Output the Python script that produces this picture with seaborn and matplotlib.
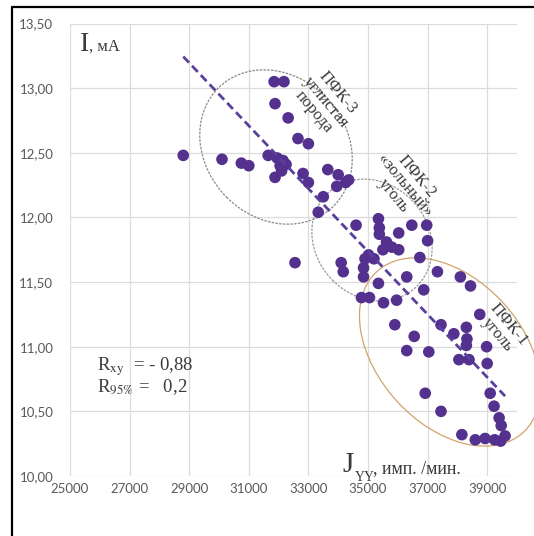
import numpy as np
import pandas as pd
import matplotlib
matplotlib.use("Agg")
import matplotlib.pyplot as plt
from matplotlib.patches import Ellipse
from matplotlib.lines import Line2D
import seaborn as sns

# ---- data ----
j_counts = [28800, 30100, 30750, 31000, 31650, 31850, 32180, 31880, 32320, 32650,
            33000, 31950, 32150, 32050, 32250, 32100, 31880, 32820, 33000, 33650,
            34000, 34350, 33950, 34250, 33500, 33330, 32550,
            34600, 35350, 35380, 35380, 35620, 35800, 35500, 36030, 35020, 35200,
            34900, 36030, 36470, 36970, 37000, 36740, 34100, 34170, 34850, 34850,
            35350, 36300, 36870, 34780, 35050, 35520, 35960, 35900, 36550,
            37330, 38100, 38440, 38750, 37450, 37880, 38300, 38320, 38300, 38050,
            38390, 38980, 39000, 36300, 37040, 36920, 37450, 39100, 39230, 39400,
            39470, 38150, 38600, 38930, 39250, 39450, 39600]
current_ma = [12.48, 12.45, 12.42, 12.40, 12.48, 13.05, 13.05, 12.88, 12.77, 12.61,
              12.57, 12.46, 12.44, 12.40, 12.41, 12.36, 12.31, 12.34, 12.27, 12.37,
              12.33, 12.29, 12.24, 12.27, 12.16, 12.04, 11.65,
              11.94, 11.99, 11.92, 11.87, 11.81, 11.77, 11.75, 11.75, 11.71, 11.68,
              11.68, 11.88, 11.94, 11.94, 11.82, 11.69, 11.65, 11.58, 11.61, 11.54,
              11.49, 11.54, 11.44, 11.38, 11.38, 11.34, 11.36, 11.17, 11.08,
              11.58, 11.54, 11.47, 11.25, 11.17, 11.10, 11.15, 11.06, 11.01, 10.90,
              10.90, 11.00, 10.87, 10.97, 10.96, 10.64, 10.50, 10.64, 10.54, 10.45,
              10.39, 10.32, 10.28, 10.29, 10.28, 10.27, 10.31]
x_ticks = [25000, 27000, 29000, 31000, 33000, 35000, 37000, 39000]
y_ticks = [10.0, 10.5, 11.0, 11.5, 12.0, 12.5, 13.0, 13.5]
group_labels = ["ПФК-3\nуглистая\nпорода", "ПФК-2\n«зольный»\nуголь", "ПФК-1\nуголь"]
stats_lines = [r"R$_{\mathrm{xy}}$  = - 0,88", r"R$_{\mathrm{95\%}}$ =   0,2"]

df = pd.DataFrame({"J": j_counts, "I": current_ma})

sns.set_theme(style="white")
plt.rcParams["font.family"] = ["Liberation Serif", "DejaVu Serif"]
plt.rcParams["mathtext.fontset"] = "stix"

W, H = 534, 536
fig = plt.figure(figsize=(W / 100, H / 100), dpi=100)
fig.patch.set_facecolor("white")
ax = fig.add_axes([70 / W, 1 - 476 / H, 447 / W, 452.5 / H])

purple = "#54318f"
sns.regplot(data=df, x="J", y="I", scatter=False, ci=None, ax=ax,
            line_kws=dict(color="#5a3f9c", lw=2.0, linestyle=(0, (3, 1.6)), zorder=4))
sns.scatterplot(data=df, x="J", y="I", ax=ax, color=purple, s=70,
                edgecolor="none", linewidth=0, zorder=3)

ax.set_xlim(25000, 40000)
ax.set_ylim(10.0, 13.5)
ax.set_xticks(x_ticks)
ax.set_yticks(y_ticks)
ax.set_xticklabels([str(v) for v in x_ticks])
ax.set_yticklabels([f"{v:.2f}".replace(".", ",") for v in y_ticks])
ax.grid(True, color="#dcdcdc", lw=0.9)
ax.set_axisbelow(True)
for s in ax.spines.values():
    s.set_visible(False)
ax.tick_params(axis="both", length=0, labelsize=9.5, colors="#595959")
ax.tick_params(axis="y", pad=12)
ax.tick_params(axis="x", pad=5)
for lab in ax.get_xticklabels() + ax.get_yticklabels():
    lab.set_fontfamily(["Lato", "DejaVu Sans"])
ax.set_xlabel("")
ax.set_ylabel("")

# ellipses (pixel geometry converted to axes fraction)
def px_ellipse(cx, cy, a2, b2, ang, color, ls):
    e = Ellipse(((cx - 70) / 447, (476 - cy) / 452.5), a2 / 447, b2 / 447, angle=ang,
                transform=ax.transAxes, fill=False, edgecolor=color, lw=0.9,
                linestyle=ls, clip_on=False, zorder=2)
    ax.add_patch(e)

px_ellipse(276, 147, 164, 140, -45, "#8a8a8a", (0, (2, 1)))
px_ellipse(372, 240, 128, 112, -45, "#9a9a9a", (0, (2, 1)))
px_ellipse(450, 352, 216, 144, -47, "#cfa46e", "-")

tc = "#3a3a3a"
def ftext(px, py, s, **kw):
    fig.text(px / W, 1 - py / H, s, color=tc, **kw)

# axis annotations
ftext(80, 51, "I", fontsize=20, va="baseline", ha="left")
ftext(89, 51, ", мА", fontsize=12, va="baseline", ha="left")
ftext(342, 472, "J", fontsize=21, va="baseline", ha="left")
ftext(355, 481, "YY", fontsize=10, va="baseline", ha="left")
ftext(373, 473, ", имп. /мин.", fontsize=13, va="baseline", ha="left")

ftext(97, 370, stats_lines[0], fontsize=13.5, va="baseline", ha="left")
ftext(97, 392, stats_lines[1], fontsize=13.5, va="baseline", ha="left")

# group labels
for (cx, cy), lab in zip([(326, 102), (405, 186), (503, 330)], group_labels):
    ftext(cx, cy, lab, fontsize=12, rotation=-50, rotation_mode="anchor",
          ha="center", va="center", multialignment="center", linespacing=0.95)

# outer frame (top and left edges visible)
fig.add_artist(Line2D([12 / W, 1.0], [1 - 7 / H, 1 - 7 / H], color="black", lw=1.6,
                      transform=fig.transFigure))
fig.add_artist(Line2D([12 / W, 12 / W], [1 - 7 / H, 0.0], color="black", lw=1.6,
                      transform=fig.transFigure))

fig.savefig("out.png", dpi=100, facecolor="white")
